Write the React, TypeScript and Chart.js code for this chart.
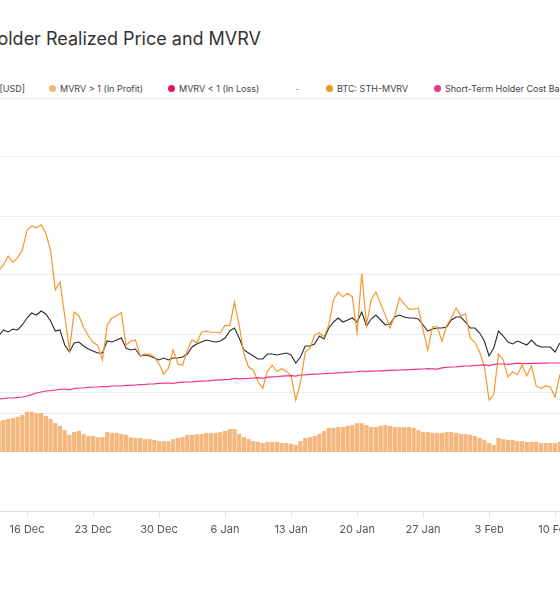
import React, { useEffect, useRef } from 'react';
import { Chart, registerables } from 'chart.js';

Chart.register(...registerables);

// ---- data ----
const TITLE = 'Bitcoin: Short-Term Holder Realized Price and MVRV';
const startDay = -3; // days relative to 16 Dec 2024
const stepDays = 0.5;

const tickDays = [-7, 0, 7, 14, 21, 28, 35, 42, 49, 56, 63];
const tickLabels = ['9 Dec', '16 Dec', '23 Dec', '30 Dec', '6 Jan', '13 Jan', '20 Jan', '27 Jan', '3 Feb', '10 Feb', '17 Feb'];

const legendLabels = ['BTC: Price [USD]', 'MVRV > 1 (In Profit)', 'MVRV < 1 (In Loss)', '-', 'BTC: STH-MVRV', 'Short-Term Holder Cost Basis [USD]'];
const legendColors = ['#2e2e2e', '#f2b57c', '#e2145e', '', '#f0961f', '#e8378c'];

const btcPrice = [
  101750, 103250, 102750, 103500, 103250, 104500, 106250, 107500, 107000, 108000,
  107250, 105500, 103000, 103250, 99500, 97750, 100000, 100250, 99250, 98500,
  98000, 97500, 97500, 100500, 100250, 100750, 101250, 98750, 98250, 98500,
  96750, 97000, 96750, 96250, 95750, 96250, 95750, 96250, 96250, 96500,
  97250, 99000, 99750, 100250, 100750, 100500, 100250, 100500, 101250, 103000,
  103750, 101250, 98250, 97500, 96750, 96000, 96000, 97250, 97250, 97000,
  97250, 97500, 97000, 95000, 96500, 99250, 99250, 99750, 101750, 101000,
  103750, 105250, 106250, 105250, 105750, 106250, 105250, 107750, 104250, 106000,
  107000, 105750, 104500, 104750, 106500, 107000, 106500, 106250, 106250, 106000,
  104500, 103000, 103500, 103750, 103750, 104000, 105750, 106500, 106500, 105250,
  103750, 103750, 102500, 100500, 96750, 98750, 103000, 101750, 100250, 99750,
  100500, 100000, 99500, 100750, 99500, 99000, 99000, 99000, 97750, 100000,
];

const sthMvrv = [
  1.107, 1.117, 1.132, 1.122, 1.129, 1.142, 1.176, 1.183, 1.180, 1.185,
  1.171, 1.141, 1.075, 1.088, 1.031, 0.973, 1.037, 1.031, 1.012, 0.997,
  0.986, 0.981, 0.956, 1.015, 1.027, 1.031, 1.036, 0.981, 0.988, 0.990,
  0.963, 0.966, 0.966, 0.961, 0.949, 0.932, 0.942, 0.973, 0.949, 0.947,
  0.973, 0.990, 0.985, 1.003, 1.005, 1.003, 1.003, 1.002, 1.015, 1.014,
  1.054, 1.015, 0.966, 0.944, 0.939, 0.919, 0.908, 0.937, 0.947, 0.936,
  0.941, 0.937, 0.929, 0.888, 0.917, 0.969, 0.976, 0.998, 1.002, 0.995,
  1.015, 1.058, 1.071, 1.063, 1.069, 1.063, 1.002, 1.102, 1.015, 1.058,
  1.071, 1.051, 1.032, 1.010, 1.031, 1.061, 1.051, 1.042, 1.042, 1.044,
  1.007, 0.973, 1.012, 1.012, 0.988, 1.014, 1.027, 1.044, 1.031, 1.034,
  0.993, 0.986, 0.969, 0.946, 0.888, 0.897, 0.966, 0.956, 0.927, 0.936,
  0.931, 0.947, 0.929, 0.946, 0.912, 0.908, 0.912, 0.910, 0.893, 0.931,
];

const sthCostBasis = [
  86000, 86100, 86250, 86250, 86400, 86500, 86750, 87100, 87500, 87750,
  88000, 88100, 88250, 88400, 88500, 88350, 88600, 88750, 88750, 88900,
  89000, 89000, 89100, 89100, 89250, 89250, 89250, 89400, 89400, 89500,
  89600, 89650, 89750, 89800, 89900, 89950, 90000, 89900, 90100, 90200,
  90250, 90300, 90400, 90450, 90500, 90600, 90700, 90800, 90850, 90900,
  91150, 91050, 91100, 91150, 91250, 91350, 91150, 91450, 91550, 91600,
  91700, 91800, 91850, 91700, 92000, 92050, 92150, 92200, 92250, 92350,
  92400, 92450, 92550, 92600, 92700, 92750, 92800, 93000, 92900, 92950,
  93000, 93050, 93100, 93150, 93200, 93250, 93300, 93350, 93400, 93450,
  93500, 93600, 93550, 93450, 93800, 93900, 94000, 94050, 94150, 94250,
  94300, 94400, 94450, 94550, 94350, 94650, 94750, 94750, 94650, 94800,
  94950, 94850, 94850, 94900, 94900, 94950, 94950, 95000, 95000, 95050,
];

const mvrvBars = [
  0.79, 0.82, 0.85, 0.87, 0.90, 0.95, 1.03, 1.03, 1.00, 1.00,
  0.92, 0.85, 0.74, 0.67, 0.56, 0.44, 0.51, 0.54, 0.46, 0.41,
  0.41, 0.38, 0.38, 0.51, 0.49, 0.49, 0.46, 0.44, 0.38, 0.36,
  0.36, 0.33, 0.33, 0.31, 0.28, 0.28, 0.28, 0.33, 0.36, 0.38,
  0.44, 0.44, 0.46, 0.46, 0.49, 0.49, 0.49, 0.51, 0.54, 0.59,
  0.59, 0.46, 0.38, 0.33, 0.28, 0.26, 0.23, 0.26, 0.26, 0.26,
  0.23, 0.23, 0.21, 0.18, 0.28, 0.36, 0.38, 0.41, 0.46, 0.54,
  0.62, 0.62, 0.64, 0.64, 0.67, 0.69, 0.74, 0.74, 0.69, 0.64,
  0.64, 0.67, 0.69, 0.67, 0.64, 0.64, 0.64, 0.64, 0.62, 0.56,
  0.51, 0.51, 0.49, 0.49, 0.49, 0.51, 0.51, 0.49, 0.46, 0.46,
  0.44, 0.41, 0.36, 0.31, 0.23, 0.18, 0.36, 0.33, 0.31, 0.31,
  0.28, 0.28, 0.26, 0.26, 0.26, 0.23, 0.23, 0.23, 0.23, 0.26,
];

const mvrvGridTicks = [0.7, 0.8, 0.9, 1.0, 1.1, 1.2, 1.3, 1.4];
const barGridTicks = [1];

// ---- layout ----
const VIEW_W = 560;
const VIEW_H = 600;
const CANVAS_W = 760;
const CANVAS_OFF = 100;
const PX_PER_DAY = 9.43;
const DAY0_X = 27;
const PLOT_TOP = 98;
const X_AXIS_H = 89;

const xMin = -(CANVAS_OFF + DAY0_X) / PX_PER_DAY;
const xMax = (CANVAS_W - CANVAS_OFF - DAY0_X) / PX_PER_DAY;

const FONT = 'Inter, "Noto Sans", sans-serif';

const toXY = (arr: number[]) => arr.map((v, i) => ({ x: startDay + i * stepDays, y: v }));

export default function App() {
  const ref = useRef<HTMLCanvasElement | null>(null);

  useEffect(() => {
    if (!ref.current) return;
    const zeroW = (s: any) => { s.width = 0; };
    const chart = new Chart(ref.current, {
      type: 'line',
      data: {
        datasets: [
          {
            type: 'line', label: legendLabels[5], data: toXY(sthCostBasis), yAxisID: 'y',
            borderColor: '#e8378c', borderWidth: 1.2, pointRadius: 0, tension: 0, order: 0,
          },
          {
            type: 'line', label: legendLabels[4], data: toXY(sthMvrv), yAxisID: 'y1',
            borderColor: '#f2992e', borderWidth: 1.2, pointRadius: 0, tension: 0, order: 1,
          },
          {
            type: 'line', label: legendLabels[0], data: toXY(btcPrice), yAxisID: 'y',
            borderColor: '#2a2a2a', borderWidth: 1.1, pointRadius: 0, tension: 0, order: 2,
          },
          {
            type: 'bar', label: legendLabels[1], data: toXY(mvrvBars), yAxisID: 'y2',
            backgroundColor: 'rgba(243,176,112,0.9)', borderWidth: 0,
            barPercentage: 1, categoryPercentage: 0.9, order: 3,
          } as any,
        ],
      },
      options: {
        animation: false,
        responsive: false,
        events: [],
        layout: { padding: { top: PLOT_TOP, left: 0, right: 0, bottom: 0 } },
        plugins: { legend: { display: false }, tooltip: { enabled: false }, title: { display: false } },
        scales: {
          x: {
            type: 'linear', min: xMin, max: xMax, offset: false,
            afterBuildTicks: (s: any) => { s.ticks = tickDays.map((v) => ({ value: v })); },
            afterFit: (s: any) => { s.height = X_AXIS_H; },
            grid: { display: true, drawOnChartArea: false, drawTicks: true, tickLength: 7, color: '#e4e4e4', offset: false },
            border: { display: true, color: '#dcdcdc' },
            ticks: {
              autoSkip: false, maxRotation: 0, padding: 5, color: '#555',
              font: { family: FONT, size: 11 },
              callback: (v: any) => {
                const i = tickDays.indexOf(Number(v));
                return i >= 0 ? tickLabels[i] : '';
              },
            },
          },
          y: {
            type: 'linear', position: 'left', min: 58000, max: 161250,
            grid: { display: false, drawTicks: false }, ticks: { display: false }, border: { display: false },
            afterFit: zeroW,
          },
          y1: {
            type: 'linear', position: 'left', min: 0.7, max: 1.4,
            afterBuildTicks: (s: any) => { s.ticks = mvrvGridTicks.map((v) => ({ value: v })); },
            grid: { display: true, drawTicks: false, color: '#ececec', lineWidth: 1 },
            ticks: { display: false }, border: { display: false },
            afterFit: zeroW,
          },
          y2: {
            type: 'linear', position: 'right', min: -1.5128, max: 9.0769,
            afterBuildTicks: (s: any) => { s.ticks = barGridTicks.map((v) => ({ value: v })); },
            grid: { display: true, drawTicks: false, color: '#ececec', lineWidth: 1 },
            ticks: { display: false }, border: { display: false },
            afterFit: zeroW,
          },
        },
      } as any,
    });
    return () => chart.destroy();
  }, []);

  const legendPos: Array<{ left?: number; right?: number }> = [
    { right: VIEW_W - 25 }, { left: 49 }, { left: 168 }, { left: 295 }, { left: 326 }, { left: 434 },
  ];

  return (
    <div style={{ position: 'absolute', left: 0, top: 0, width: VIEW_W, height: VIEW_H, overflow: 'hidden', background: '#fff', fontFamily: FONT }}>
      <div style={{ position: 'absolute', right: VIEW_W - 261, top: 30, fontSize: 18, lineHeight: '18px', color: '#333', whiteSpace: 'nowrap' }}>
        {TITLE}
      </div>
      {legendLabels.map((lab, i) => (
        <div key={i} style={{ position: 'absolute', top: 83, ...legendPos[i], display: 'flex', alignItems: 'center', whiteSpace: 'nowrap', fontSize: 9, lineHeight: '11px', color: legendColors[i] ? '#444' : '#999' }}>
          {legendColors[i] ? (
            <span style={{ display: 'inline-block', width: 7, height: 7, borderRadius: 4, background: legendColors[i], marginRight: 4 }} />
          ) : null}
          <span>{lab}</span>
        </div>
      ))}
      <canvas ref={ref} width={CANVAS_W} height={VIEW_H} style={{ position: 'absolute', left: -CANVAS_OFF, top: 0, width: CANVAS_W, height: VIEW_H }} />
    </div>
  );
}
